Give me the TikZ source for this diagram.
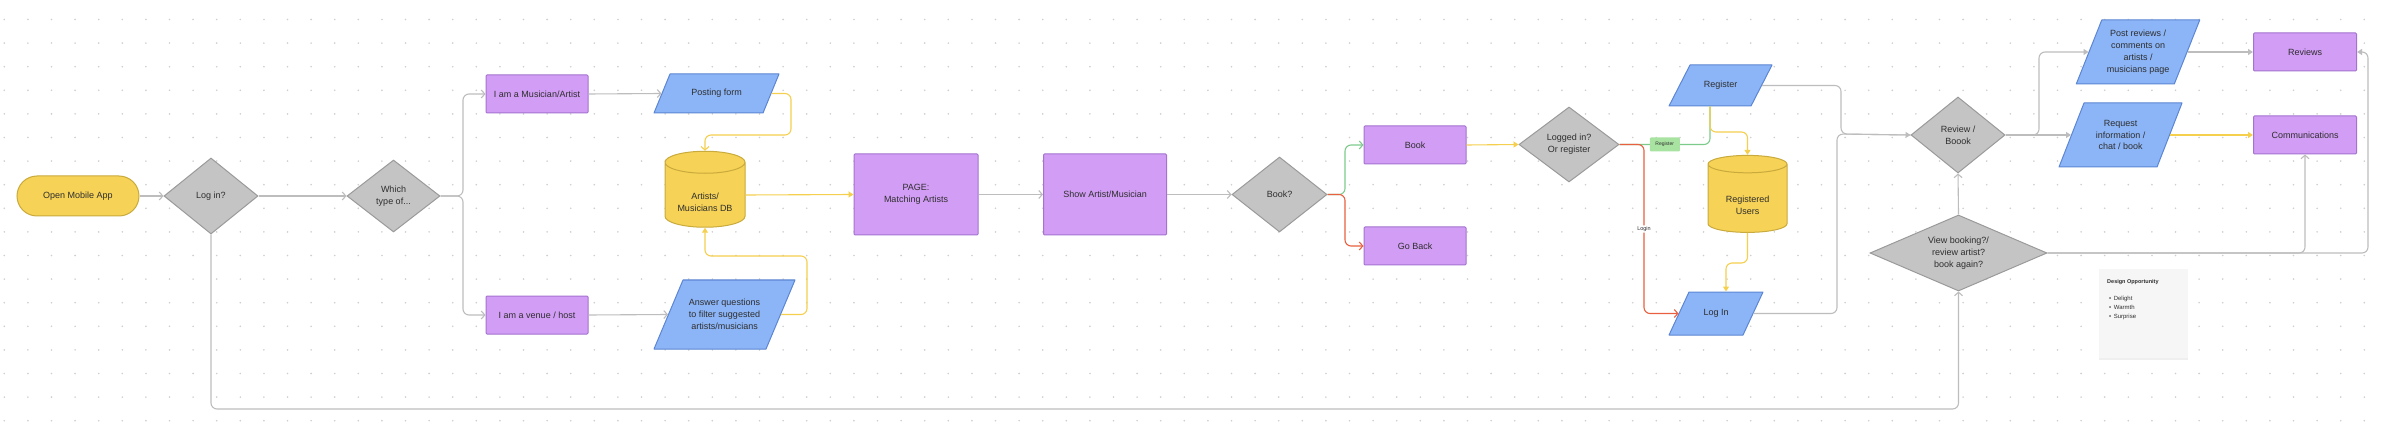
\documentclass[tikz,border=0pt]{standalone}
\usepackage{fontspec}
\setmainfont{Liberation Sans}
\usetikzlibrary{shapes.geometric,arrows.meta,shadows}
\definecolor{ylw}{HTML}{F6D256}
\definecolor{ylwd}{HTML}{C9AA3C}
\definecolor{ylwl}{HTML}{F5CF4E}
\definecolor{prp}{HTML}{D29DF5}
\definecolor{prpd}{HTML}{A473CF}
\definecolor{blu}{HTML}{8CB5F7}
\definecolor{blud}{HTML}{5C86D3}
\definecolor{gry}{HTML}{C4C4C4}
\definecolor{gryd}{HTML}{9A9A9A}
\definecolor{lgry}{HTML}{BDBDBD}
\definecolor{grn}{HTML}{7DCB8B}
\definecolor{grnf}{HTML}{A9E3A1}
\definecolor{rln}{HTML}{E8603F}
\definecolor{txt}{HTML}{2E2E2E}
\definecolor{dotc}{HTML}{CFCFCF}
\definecolor{notef}{HTML}{F6F6F6}
\newcommand\iopara[5]{\filldraw[iofill] ({#1-#3/2+#5},{#2-#4/2}) -- ({#1+#3/2},{#2-#4/2}) -- ({#1+#3/2-#5},{#2+#4/2}) -- ({#1-#3/2},{#2+#4/2}) -- cycle;}
\newcommand\dbtext[1]{\raisebox{-10pt}[0pt][0pt]{\begin{tabular}{@{}c@{}}#1\end{tabular}}}
\tikzset{
  base/.style={text=txt, font=\fontsize{9}{11.8}\selectfont, align=center, inner sep=0pt, line width=1pt},
  termbox/.style={base, rectangle, rounded corners=20pt, fill=ylw, draw=ylwd, minimum width=122pt, minimum height=40pt},
  decide/.style={base, diamond, fill=gry, draw=gryd},
  procbox/.style={base, rectangle, fill=prp, draw=prpd, rounded corners=1pt},
  iofill/.style={fill=blu, draw=blud, line width=1pt, line join=round},
  iotext/.style={base, rectangle, draw=none},
  dbase/.style={base, cylinder, shape border rotate=90, aspect=0.4, fill=ylw, draw=ylwd},
  conn/.style={draw=lgry, line width=1.1pt, rounded corners=6pt},
  yconn/.style={conn, draw=ylwl},
  gconn/.style={conn, draw=grn},
  rconn/.style={conn, draw=rln},
  ochev/.style={-{Straight Barb[length=3.5pt,width=8pt]}},
  ftri/.style={-{Triangle[length=5pt,width=6pt]}},
  regtag/.style={fill=grnf, text=txt, font=\fontsize{5}{6}\selectfont, inner sep=1pt, rounded corners=1pt, minimum width=30pt, minimum height=14pt},
  lbl/.style={fill=white, text=txt, font=\fontsize{5.5}{6}\selectfont, inner sep=1pt},
  notebox/.style={fill=notef, draw=none, minimum width=89pt, minimum height=89pt, drop shadow={shadow xshift=0pt, shadow yshift=-1.5pt, opacity=0.12}},
  notetxt/.style={text=txt, align=left, inner sep=0pt}
}
\begin{document}
\begin{tikzpicture}[x=1pt,y=-1pt]
\useasboundingbox (0,0) rectangle (2384,430);
\fill[white] (0,0) rectangle (2384,430);
\foreach \i in {0,...,100}{\foreach \j in {0,...,17}{\fill[dotc] (4.3+23.6*\i,19.5+23.6*\j) circle[radius=0.9pt];}}

% parallelogram bodies
\iopara{716.5}{93.5}{125}{39}{16}
\iopara{724.5}{314.5}{141}{69}{29}
\iopara{1720.5}{85.5}{103}{41}{21}
\iopara{1716}{313.5}{94}{43}{20}
\iopara{2138}{52}{123.5}{64}{25.5}
\iopara{2120.5}{135}{123}{64}{25}

% nodes
\node[termbox] (app) at (78,196) {Open Mobile App};
\node[decide, minimum width=94pt, minimum height=76pt] (logi) at (211,196) {Log in?};
\node[decide, minimum width=93pt, minimum height=72pt] (which) at (393.5,196) {Which\\type of...};
\node[procbox, minimum width=102pt, minimum height=38pt] (mus) at (537,94) {I am a Musician/Artist};
\node[procbox, minimum width=102pt, minimum height=38pt] (venue) at (537,315) {I am a venue / host};
\node[iotext, minimum width=125pt, minimum height=39pt] (post) at (716.5,93.5) {Posting form};
\node[iotext, minimum width=141pt, minimum height=69pt] (ans) at (724.5,314.5) {Answer questions\\to filter suggested\\artists/musicians};
\node[dbase, minimum width=80pt, minimum height=76pt] (db) at (705,195) {\dbtext{Artists/\\Musicians DB}};
\node[procbox, minimum width=124pt, minimum height=81pt] (page) at (916,194.5) {PAGE:\\Matching Artists};
\node[procbox, minimum width=123pt, minimum height=81pt] (show) at (1105,194.5) {Show Artist/Musician};
\node[decide, minimum width=95pt, minimum height=75pt] (bookq) at (1279.5,194.5) {Book?};
\node[procbox, minimum width=102pt, minimum height=38pt] (book) at (1415,145) {Book};
\node[procbox, minimum width=102pt, minimum height=38pt] (back) at (1415,246) {Go Back};
\node[decide, minimum width=100pt, minimum height=75pt] (logq) at (1569,144.5) {Logged in?\\Or register};
\node[iotext, minimum width=103pt, minimum height=41pt] (reg) at (1720.5,85.5) {Register};
\node[dbase, minimum width=79pt, minimum height=77pt] (ru) at (1747.5,198.5) {\dbtext{Registered\\Users}};
\node[iotext, minimum width=94pt, minimum height=43pt] (login) at (1716,313.5) {Log In};
\node[decide, minimum width=94pt, minimum height=76pt] (rev) at (1958,135) {Review /\\Boook};
\node[decide, aspect=2.3, minimum width=177pt, minimum height=76pt] (view) at (1958.5,253) {View booking?/\\review artist?\\book again?};
\node[iotext, minimum width=123.5pt, minimum height=64pt] (postr) at (2138,52) {Post reviews /\\comments on\\artists /\\musicians page};
\node[iotext, minimum width=123pt, minimum height=64pt] (req) at (2120.5,135) {Request\\information /\\chat / book};
\node[procbox, minimum width=103pt, minimum height=38pt] (reviews) at (2305,52) {Reviews};
\node[procbox, minimum width=103pt, minimum height=38pt] (comm) at (2305,135) {Communications};

% note
\node[notebox] (note) at (2143.5,313.5) {};
\node[notetxt, anchor=west, font=\bfseries\fontsize{5.5}{7}\selectfont] (ntitle) at (2107,282) {Design Opportunity};
\node[notetxt, anchor=north west, font=\fontsize{6}{9}\selectfont] (nlist) at (2109,295.5) {•\hspace{2.5pt}Delight\\•\hspace{2.5pt}Warmth\\•\hspace{2.5pt}Surprise};

% connectors
\draw[conn, ochev] (app) -- (logi);
\draw[conn, ochev] (logi) -- (which);
\draw[conn, ochev] (which.east) -- (463,196) |- (mus.west);
\draw[conn, ochev] (which.east) -- (463,196) |- (venue.west);
\draw[conn, ochev] (mus.east) -- ([xshift=8pt]post.west);
\draw[conn, ochev] (venue.east) -- ([xshift=14.5pt]ans.west);
\draw[yconn, ochev] ([xshift=-8pt]post.east) -| (791,135) -| (db.north);
\draw[yconn, ftri] ([xshift=-14.5pt]ans.east) -| (807,256) -| (db.south);
\draw[yconn, ftri] (db.east) -- (page.west);
\draw[conn, ochev] (page) -- (show);
\draw[conn, ochev] (show) -- (bookq);
\draw[gconn, ochev] (bookq.east) -- (1345,194.5) |- (book.west);
\draw[rconn, ochev] (bookq.east) -- (1345,194.5) |- (back.west);
\draw[yconn, ftri] (book.east) -- (logq.west);
\draw[gconn] (logq.east) -| node[regtag, pos=0.25] (tagreg) {Register} ([xshift=-10.5pt]reg.south);
\draw[rconn, ochev] (logq.east) -- (1644,144.5) |- node[lbl, pos=0.25] (taglogin) {Login} ([xshift=10pt]login.west);
\draw[yconn, ftri] ([xshift=-10.5pt]reg.south) -- (1710,132) -| (ru.north);
\draw[yconn, ftri] (ru.south) -- (1747.5,263) -| ([xshift=10pt]login.north);
\draw[conn] ([xshift=-10.5pt]reg.east) -| (1841,134) -- (rev.west);
\draw[conn, ftri] ([xshift=-10pt]login.east) -| (1837,134) -- (rev.west);
\draw[conn, ochev] (view.north) -- (rev.south);
\draw[conn, ochev] (logi.south) -- (211,409) -| (view.south);
\draw[conn, ftri] (rev.east) -- (2039,135) |- ([xshift=12.75pt]postr.west);
\draw[conn, ftri] (rev.east) -- ([xshift=12.5pt]req.west);
\draw[conn, ftri] ([xshift=-12.75pt]postr.east) -- (reviews.west);
\draw[yconn, ftri] ([xshift=-12.5pt]req.east) -- (comm.west);
\draw[conn, ochev] (view.east) -| (comm.south);
\draw[conn, ftri] (view.east) -- (2368,253) |- (reviews.east);
\end{tikzpicture}
\end{document}
